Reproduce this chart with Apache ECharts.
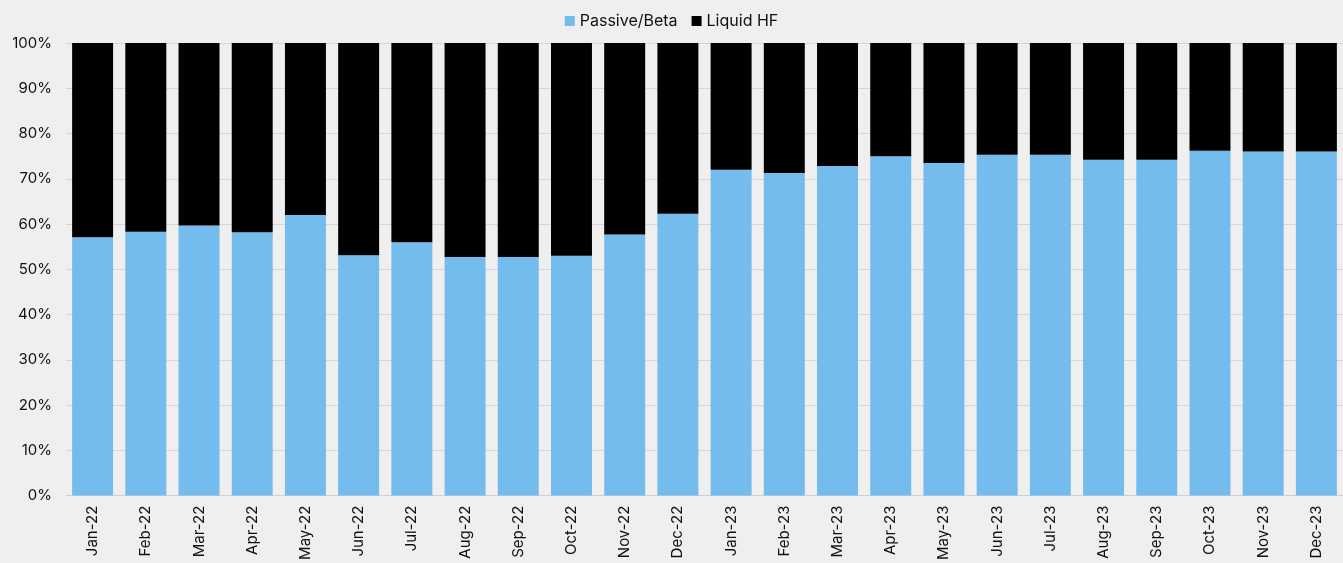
<!DOCTYPE html>
<html><head><meta charset="utf-8">
<script src="https://cdn.jsdelivr.net/npm/echarts@6/dist/echarts.min.js"></script>
<style>html,body{margin:0;padding:0;background:#efefef;}#c{width:1343px;height:563px;}</style>
</head><body><div id="c"></div>
<script>
var categories = ["Jan-22","Feb-22","Mar-22","Apr-22","May-22","Jun-22","Jul-22","Aug-22","Sep-22","Oct-22","Nov-22","Dec-22","Jan-23","Feb-23","Mar-23","Apr-23","May-23","Jun-23","Jul-23","Aug-23","Sep-23","Oct-23","Nov-23","Dec-23"];
var passiveBeta = [57.1,58.3,59.7,58.2,62.0,53.1,56.0,52.7,52.7,53.0,57.7,62.3,72.0,71.3,72.8,75.0,73.5,75.3,75.3,74.2,74.2,76.2,76.0,76.0];
var liquidHF = [42.9,41.7,40.3,41.8,38.0,46.9,44.0,47.3,47.3,47.0,42.3,37.7,28.0,28.7,27.2,25.0,26.5,24.7,24.7,25.8,25.8,23.8,24.0,24.0];
var yTicks = [0,10,20,30,40,50,60,70,80,90,100];
var font = "Inter, 'Noto Sans', sans-serif";
var chart = echarts.init(document.getElementById('c'));
chart.setOption({
  backgroundColor: '#efefef',
  animation: false,
  textStyle: {fontFamily: font},
  legend: {
    top: 8, left: 'center', itemWidth: 10, itemHeight: 10, itemGap: 14,
    textStyle: {fontSize: 16, color: '#111', fontFamily: font},
    data: [{name:'Passive/Beta', icon:'rect'},{name:'Liquid HF', icon:'rect'}]
  },
  grid: {left: 66, right: 0, top: 43, bottom: 67, containLabel: false},
  xAxis: {
    type: 'category', data: categories,
    axisLine: {show: true, lineStyle: {color: '#d0d0d0'}},
    axisTick: {show: false},
    axisLabel: {rotate: 90, fontSize: 15, color: '#111', margin: 10, fontFamily: font}
  },
  yAxis: {
    type: 'value', min: yTicks[0], max: yTicks[yTicks.length-1], interval: 10,
    axisLine: {show: false}, axisTick: {show: false},
    splitLine: {lineStyle: {color: '#d6d6d6', width: 1}},
    axisLabel: {formatter: '{value}%', fontSize: 15, color: '#111', margin: 14, fontFamily: font}
  },
  series: [
    {name: 'Passive/Beta', type: 'bar', stack: 'a', data: passiveBeta, barCategoryGap: '23%', itemStyle: {color: '#74bcee'}},
    {name: 'Liquid HF', type: 'bar', stack: 'a', data: liquidHF, barCategoryGap: '23%', itemStyle: {color: '#000000'}}
  ]
});
</script></body></html>
